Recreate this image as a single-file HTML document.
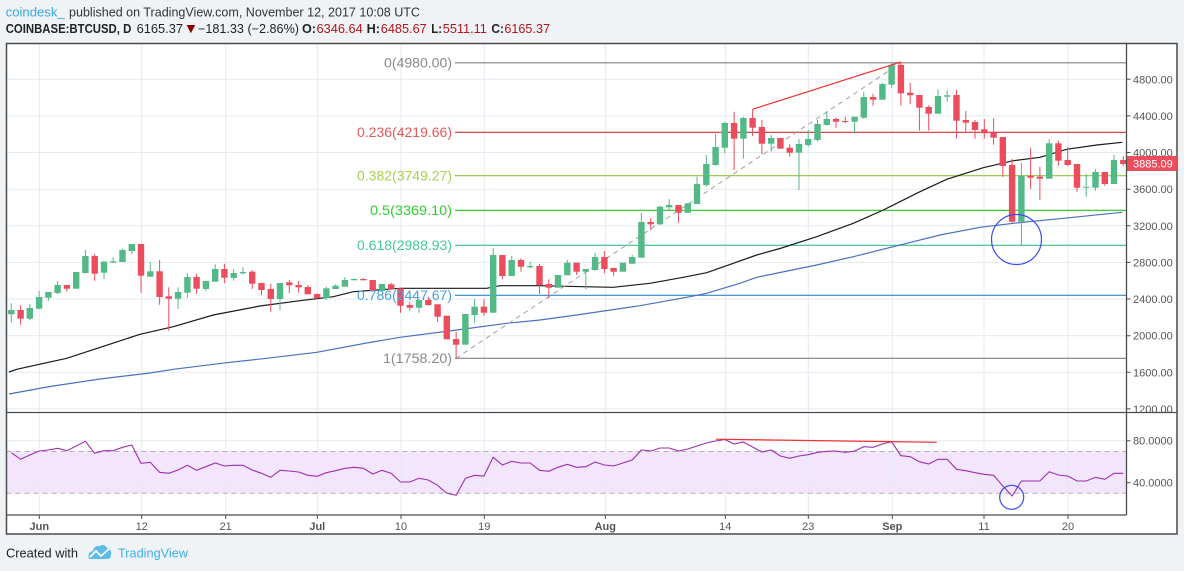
<!DOCTYPE html>
<html>
<head>
<meta charset="utf-8">
<style>
html,body{margin:0;padding:0;background:#f0f3f6;}
svg{display:block;}
text{font-family:"Liberation Sans",Arial,sans-serif;}
</style>
</head>
<body>
<svg width="1184" height="571" viewBox="0 0 1184 571" xmlns="http://www.w3.org/2000/svg">
<rect x="0" y="0" width="1184" height="571" fill="#f0f3f6"/>

<!-- header -->
<text x="5.7" y="16.5" font-size="13" fill="#35a8e0" textLength="59" lengthAdjust="spacingAndGlyphs">coindesk_</text>
<text x="69" y="16.5" font-size="13" fill="#333" textLength="351" lengthAdjust="spacingAndGlyphs">published on TradingView.com, November 12, 2017 10:08 UTC</text>

<text x="5.7" y="33" font-size="12.5" font-weight="bold" fill="#222" textLength="125.6" lengthAdjust="spacingAndGlyphs">COINBASE:BTCUSD, D</text>
<text x="136.6" y="33" font-size="12.5" fill="#222" textLength="46.4" lengthAdjust="spacingAndGlyphs">6165.37</text>
<polygon points="186.6,25 195.2,25 190.9,33.3" fill="#8b0000"/>
<text x="198" y="33" font-size="12.5" fill="#222" textLength="101" lengthAdjust="spacingAndGlyphs">−181.33 (−2.86%)</text>
<text x="302" y="33" font-size="12.5" font-weight="bold" fill="#222" textLength="14" lengthAdjust="spacingAndGlyphs">O:</text>
<text x="316.5" y="33" font-size="12.5" fill="#b0161c" textLength="46.3" lengthAdjust="spacingAndGlyphs">6346.64</text>
<text x="366.6" y="33" font-size="12.5" font-weight="bold" fill="#222" textLength="13.4" lengthAdjust="spacingAndGlyphs">H:</text>
<text x="380.8" y="33" font-size="12.5" fill="#b0161c" textLength="45.9" lengthAdjust="spacingAndGlyphs">6485.67</text>
<text x="431.3" y="33" font-size="12.5" font-weight="bold" fill="#222" textLength="10.7" lengthAdjust="spacingAndGlyphs">L:</text>
<text x="442.8" y="33" font-size="12.5" fill="#b0161c" textLength="44" lengthAdjust="spacingAndGlyphs">5511.11</text>
<text x="491.4" y="33" font-size="12.5" font-weight="bold" fill="#222" textLength="12.6" lengthAdjust="spacingAndGlyphs">C:</text>
<text x="504.4" y="33" font-size="12.5" fill="#b0161c" textLength="45.6" lengthAdjust="spacingAndGlyphs">6165.37</text>

<!-- chart background -->
<rect x="6.5" y="43.5" width="1170.5" height="490.5" fill="#ffffff"/>
<rect x="6.5" y="451.5" width="1120" height="41.8" fill="#f3e6fc"/>

<!-- grid -->
<g stroke="#e3eaf0" stroke-width="1">
<path d="M6.5 79.3H1126M6.5 115.9H1126M6.5 152.5H1126M6.5 189.2H1126M6.5 225.8H1126M6.5 262.4H1126M6.5 299H1126M6.5 335.7H1126M6.5 372.3H1126M6.5 408.9H1126"/>
<path d="M6.5 440.7H1126M6.5 482.7H1126"/>
<path d="M39.3 43.5V515M141.7 43.5V515M225.7 43.5V515M317.3 43.5V515M401 43.5V515M484.3 43.5V515M605.3 43.5V515M725.3 43.5V515M808.3 43.5V515M892.3 43.5V515M984 43.5V515M1068 43.5V515"/>
</g>

<!-- RSI band dashed -->
<g stroke="#b8a8c0" stroke-width="1" stroke-dasharray="5 4">
<path d="M6.5 451.5H1126M6.5 493.3H1126"/>
</g>

<!-- fib lines -->
<g stroke-width="1.2" fill="none">
<path d="M455 62.8H1126" stroke="#808080"/>
<path d="M455 132.3H1126" stroke="#d32f2f"/>
<path d="M455 175.7H1126" stroke="#8dc63f"/>
<path d="M455 210.3H1126" stroke="#21c621"/>
<path d="M455 245.3H1126" stroke="#35c08a"/>
<path d="M455 295.3H1126" stroke="#2f88c8"/>
<path d="M455 358.3H1126" stroke="#808080"/>
</g>

<!-- moving averages -->
<polyline fill="none" stroke="#4a70c0" stroke-width="1.2" points="9,394 50,386.5 100,379 150,373 173.3,369.3 226.7,362.7 266.7,358.3 316.7,352.3 366.7,343 400,337.3 456.7,330 506.7,323.3 540,320 576.7,315 640,305.7 690,296.7 706.7,293.3 723.3,288.3 740,283.3 756.7,277.3 780,272.5 816.7,265 853.3,256.7 893.3,246.7 940,235 980,227.3 1013.3,223.3 1063.3,218.3 1122.3,212.3"/>
<polyline fill="none" stroke="#1a1a1a" stroke-width="1.2" points="9,372 16.7,369.3 66.7,358.3 140,334.3 173.3,326.7 213.3,315 260,306 300,300.7 333.3,296.7 353.3,291.7 400,288.3 486.7,288.3 500,285.7 540,285.7 583.3,286.7 613.3,287.3 650,283.3 683.3,277.3 706.7,272.7 733.3,263.3 756.7,255 780,248.5 816.7,236.7 853.3,223.3 883.3,210 920,191.7 946.7,179.3 983.3,167.7 1013.3,160.7 1040,157.3 1066.7,149.3 1096.7,145 1122.3,142.3"/>

<!-- dashed fib trend -->
<line x1="456" y1="358.3" x2="900.9" y2="62.8" stroke="#a0a0a0" stroke-width="1" stroke-dasharray="5 4"/>

<!-- candles green -->
<path fill="none" stroke="#53b987" stroke-width="1" d="M11.3 303.3V322.7M29.8 304V320M39.1 291V309.3M48.4 292V300.7M57.6 281V294M85.4 250V273.7M104 260.7V279.3M113.2 257.3V262.7M122.5 248.7V262M131.8 244V254.3M150.3 262V276.7M178.1 287.3V309M187.4 273V297.7M205.9 281V291M215.2 264.3V281.7M233.7 269V280.7M243 267.3V274.7M280 283V310.3M326.4 286.7V300M335.6 284.3V289M344.9 277.3V286.7M354.2 278.3V280.3M419 299.3V312.7M474.6 299.3V322.7M493.2 248V312.7M511.7 256V276M530.2 261.7V268.3M567.3 260V275.3M585.8 269V289.3M595.1 252.7V270.7M632.2 255V263.7M641.4 213V257.7M660 205.7V225M669.2 199V210M687.8 203.3V213.3M697 176.7V204M706.3 155V186.7M715.6 134V165.7M724.8 121.7V153.3M743.4 116.7V158.7M771.2 135V151.7M799 139V190M808.2 130V146.7M817.5 120V141.7M826.8 111V125.7M854.6 116.7V133.3M863.8 92V119M882.4 82.7V99.7M891.6 63.3V87.7M938 89.3V113.7M947.2 90.7V101.7M1021.4 162.7V245.7M1049.2 139.3V178.7M1086.2 174V196.7M1095.5 169.3V190.7M1114 155V184"/>
<g fill="#53b987">
<rect x="8.1" y="310" width="6.4" height="4.3"/>
<rect x="26.6" y="308" width="6.4" height="10.7"/>
<rect x="35.9" y="297" width="6.4" height="11.7"/>
<rect x="45.2" y="292" width="6.4" height="5.7"/>
<rect x="54.4" y="285" width="6.4" height="8"/>
<rect x="73" y="272" width="6.4" height="16.7"/>
<rect x="82.2" y="256" width="6.4" height="17"/>
<rect x="100.8" y="261.7" width="6.4" height="11"/>
<rect x="110" y="261.3" width="6.4" height="1.4"/>
<rect x="119.3" y="250" width="6.4" height="12"/>
<rect x="128.6" y="244" width="6.4" height="7"/>
<rect x="147.1" y="271.3" width="6.4" height="5.4"/>
<rect x="174.9" y="292" width="6.4" height="6.7"/>
<rect x="184.2" y="277" width="6.4" height="15.7"/>
<rect x="202.7" y="281" width="6.4" height="8"/>
<rect x="212" y="269" width="6.4" height="12.7"/>
<rect x="230.5" y="273" width="6.4" height="5"/>
<rect x="239.8" y="272" width="6.4" height="1.3"/>
<rect x="276.8" y="283" width="6.4" height="16"/>
<rect x="323.2" y="288.3" width="6.4" height="9.7"/>
<rect x="332.4" y="285.7" width="6.4" height="3.3"/>
<rect x="341.7" y="280" width="6.4" height="6.7"/>
<rect x="351" y="279" width="6.4" height="1.3"/>
<rect x="378.8" y="284" width="6.4" height="7"/>
<rect x="415.8" y="300" width="6.4" height="7.7"/>
<rect x="462.2" y="314" width="6.4" height="30.7"/>
<rect x="471.4" y="306.7" width="6.4" height="8.3"/>
<rect x="490" y="255" width="6.4" height="57.7"/>
<rect x="508.5" y="260" width="6.4" height="16"/>
<rect x="527" y="266" width="6.4" height="1.3"/>
<rect x="554.8" y="275" width="6.4" height="12.7"/>
<rect x="564.1" y="262.7" width="6.4" height="12.6"/>
<rect x="582.6" y="269" width="6.4" height="2.7"/>
<rect x="591.9" y="257" width="6.4" height="13"/>
<rect x="619.7" y="262.7" width="6.4" height="9"/>
<rect x="629" y="257" width="6.4" height="6.7"/>
<rect x="638.2" y="222" width="6.4" height="35.7"/>
<rect x="656.8" y="206.7" width="6.4" height="17.6"/>
<rect x="666" y="205" width="6.4" height="2.3"/>
<rect x="684.6" y="203.3" width="6.4" height="9.4"/>
<rect x="693.8" y="184" width="6.4" height="20"/>
<rect x="703.1" y="164" width="6.4" height="21"/>
<rect x="712.4" y="147" width="6.4" height="18"/>
<rect x="721.6" y="123" width="6.4" height="24.7"/>
<rect x="740.2" y="118" width="6.4" height="20.7"/>
<rect x="768" y="138" width="6.4" height="5.7"/>
<rect x="795.8" y="144" width="6.4" height="8.7"/>
<rect x="805" y="139" width="6.4" height="6"/>
<rect x="814.3" y="124" width="6.4" height="16"/>
<rect x="823.6" y="119" width="6.4" height="6"/>
<rect x="851.4" y="116.7" width="6.4" height="5"/>
<rect x="860.6" y="97" width="6.4" height="20.7"/>
<rect x="879.2" y="84" width="6.4" height="15.7"/>
<rect x="888.4" y="65" width="6.4" height="19.7"/>
<rect x="934.8" y="96" width="6.4" height="17.7"/>
<rect x="944" y="95.3" width="6.4" height="1.4"/>
<rect x="1018.2" y="175.7" width="6.4" height="46"/>
<rect x="1046" y="143.3" width="6.4" height="35.4"/>
<rect x="1083" y="186.7" width="6.4" height="1"/>
<rect x="1092.3" y="172" width="6.4" height="15.7"/>
<rect x="1110.8" y="160" width="6.4" height="24"/>
</g>

<!-- candles red -->
<path fill="none" stroke="#eb4d5c" stroke-width="1" d="M20.6 305.3V324.7M66.9 285V291.7M94.7 254V280.7M141 244V292.7M159.6 260V304.7M168.8 287.3V330.7M196.6 273.7V293.7M224.4 263.7V283.3M252.2 270V289M261.5 283V295.3M270.8 283.7V311.7M289.3 280V293.3M298.6 281V292.7M307.8 285V294.3M317.1 293.3V298.7M363.4 278V280.3M391.2 282.7V290M400.5 288.3V312.7M409.8 302.3V310.7M428.3 296.7V305.7M437.6 304.3V321.7M456.1 331.7V358.3M483.9 299.3V315.7M502.4 255V279.3M521 258.3V271.7M539.5 264V294M548.8 279.3V298.3M576.6 262.7V275M604.4 251V273.3M613.6 268V275.7M650.7 218.3V230M678.5 205V222.7M734.1 111.7V170M752.6 109.3V136M761.9 120V154.3M789.7 144.3V156.7M836 117.7V127.7M845.3 116.7V123.3M873.1 93.7V105.7M900.9 62.5V105.7M910.2 82.7V104.3M919.4 95V130.7M928.7 105.3V130.7M956.5 90V138.7M965.8 111V132.7M975 120V138.7M984.3 119V138.7M993.6 118.3V144.7M1002.8 137V176.7M1012.1 158.7V222.7M1030.6 147.7V189M1039.9 166.7V200M1058.4 140.7V165.7M1067.7 147.3V166M1077 164V191.7M1104.8 172V185.7M1123.3 156V165.7"/>
<g fill="#eb4d5c">
<rect x="17.4" y="310" width="6.4" height="8.7"/>
<rect x="63.7" y="285" width="6.4" height="3.7"/>
<rect x="91.5" y="256" width="6.4" height="17.7"/>
<rect x="137.8" y="244" width="6.4" height="31.7"/>
<rect x="156.4" y="271.3" width="6.4" height="25.7"/>
<rect x="165.6" y="296.3" width="6.4" height="2.4"/>
<rect x="193.4" y="277" width="6.4" height="11.7"/>
<rect x="221.2" y="269" width="6.4" height="8.7"/>
<rect x="249" y="271.7" width="6.4" height="12"/>
<rect x="258.3" y="283" width="6.4" height="7"/>
<rect x="267.6" y="289" width="6.4" height="10"/>
<rect x="286.1" y="282.3" width="6.4" height="3"/>
<rect x="295.4" y="285" width="6.4" height="2.3"/>
<rect x="304.6" y="287" width="6.4" height="7.3"/>
<rect x="313.9" y="294" width="6.4" height="4"/>
<rect x="360.2" y="279" width="6.4" height="1.3"/>
<rect x="369.5" y="280" width="6.4" height="11"/>
<rect x="388" y="284.3" width="6.4" height="5"/>
<rect x="397.3" y="288.3" width="6.4" height="17.4"/>
<rect x="406.6" y="305" width="6.4" height="2.7"/>
<rect x="425.1" y="300" width="6.4" height="5"/>
<rect x="434.4" y="304.3" width="6.4" height="12.4"/>
<rect x="443.6" y="315.7" width="6.4" height="23.6"/>
<rect x="452.9" y="339" width="6.4" height="5.7"/>
<rect x="480.7" y="306.7" width="6.4" height="6"/>
<rect x="499.2" y="255" width="6.4" height="21"/>
<rect x="517.8" y="260" width="6.4" height="6.7"/>
<rect x="536.3" y="266" width="6.4" height="19"/>
<rect x="545.6" y="284" width="6.4" height="3.7"/>
<rect x="573.4" y="262.7" width="6.4" height="9"/>
<rect x="601.2" y="257" width="6.4" height="12"/>
<rect x="610.4" y="268" width="6.4" height="3.7"/>
<rect x="647.5" y="222" width="6.4" height="2.3"/>
<rect x="675.3" y="205" width="6.4" height="7.7"/>
<rect x="730.9" y="123" width="6.4" height="15.7"/>
<rect x="749.4" y="118" width="6.4" height="9.7"/>
<rect x="758.7" y="127" width="6.4" height="16.7"/>
<rect x="777.2" y="138" width="6.4" height="10.7"/>
<rect x="786.5" y="147.7" width="6.4" height="5"/>
<rect x="832.8" y="119" width="6.4" height="2.7"/>
<rect x="842.1" y="121" width="6.4" height="1"/>
<rect x="869.9" y="97" width="6.4" height="2.7"/>
<rect x="897.7" y="65" width="6.4" height="28.3"/>
<rect x="907" y="92.7" width="6.4" height="2.6"/>
<rect x="916.2" y="95" width="6.4" height="12.7"/>
<rect x="925.5" y="107" width="6.4" height="6.7"/>
<rect x="953.3" y="95" width="6.4" height="25.7"/>
<rect x="962.6" y="120" width="6.4" height="2.7"/>
<rect x="971.8" y="122" width="6.4" height="8"/>
<rect x="981.1" y="129.3" width="6.4" height="4"/>
<rect x="990.4" y="132.3" width="6.4" height="5.4"/>
<rect x="999.6" y="137" width="6.4" height="29"/>
<rect x="1008.9" y="165" width="6.4" height="56.7"/>
<rect x="1027.4" y="175.7" width="6.4" height="2"/>
<rect x="1036.7" y="176.7" width="6.4" height="2"/>
<rect x="1055.2" y="143.3" width="6.4" height="17.4"/>
<rect x="1064.5" y="160" width="6.4" height="5"/>
<rect x="1073.8" y="164" width="6.4" height="23.7"/>
<rect x="1101.6" y="172" width="6.4" height="12"/>
<rect x="1120.1" y="160" width="6.4" height="4"/>
</g>

<!-- fib labels -->
<g font-size="14" text-anchor="end">
<text x="452" y="67.5" fill="#8a8a8a" textLength="68" lengthAdjust="spacingAndGlyphs">0(4980.00)</text>
<text x="452" y="137" fill="#e05a5a" textLength="95" lengthAdjust="spacingAndGlyphs">0.236(4219.66)</text>
<text x="452" y="180.4" fill="#a6cf4f" textLength="95" lengthAdjust="spacingAndGlyphs">0.382(3749.27)</text>
<text x="452" y="215" fill="#33cc33" textLength="82" lengthAdjust="spacingAndGlyphs">0.5(3369.10)</text>
<text x="452" y="250" fill="#45c898" textLength="95" lengthAdjust="spacingAndGlyphs">0.618(2988.93)</text>
<text x="452" y="300" fill="#4aa0dc" textLength="95" lengthAdjust="spacingAndGlyphs">0.786(2447.67)</text>
<text x="452" y="363" fill="#8a8a8a" textLength="69" lengthAdjust="spacingAndGlyphs">1(1758.20)</text>
</g>

<!-- annotations price -->
<line x1="752.6" y1="109.3" x2="900.9" y2="62" stroke="#f23030" stroke-width="1.2"/>
<circle cx="1016.5" cy="239.5" r="25" fill="none" stroke="#3d4cf0" stroke-width="1.2"/>

<!-- RSI line -->
<polyline fill="none" stroke="#9c2fae" stroke-width="1.1" points="11.3,452.7 20.6,459.3 29.8,455 39.1,451 48.4,450 57.6,448.3 66.9,450.7 76.2,446 85.4,441.3 94.7,453.3 104,450.7 113.2,450.7 122.5,447.3 131.8,445 141,463.3 150.3,462.3 159.6,472.3 168.8,473.3 178.1,470 187.4,465.3 196.6,470.3 205.9,466.7 215.2,463 224.4,466 233.7,465.3 243,465.3 252.2,470 261.5,473.3 270.8,477.3 280,470.3 289.3,471 298.6,472 307.8,475.3 317.1,476.3 326.4,472.7 335.6,470.7 344.9,468.3 354.2,467.3 363.4,468.3 372.7,474 382,470.3 391.2,473.3 400.5,482 409.8,482 419,478.3 428.3,480 437.6,485.3 446.8,493.3 456.1,495.3 465.4,478.3 474.6,475.3 483.9,476 493.2,457.3 502.4,465 511.7,461.3 521,463 530.2,463 539.5,470.3 548.8,471.3 558,467.3 567.3,464.3 576.6,467.3 585.8,466.7 595.1,462 604.4,465 613.6,466 622.9,463 632.2,460 641.4,450 650.7,451 660,448 669.2,448 678.5,451 687.8,449 697,446 706.3,443 715.6,441 724.8,439.5 734.1,444 743.4,442 752.6,447 761.9,452 771.2,450 780.4,456 789.7,458.3 799,456 808.2,454.7 817.5,452.3 826.8,451.3 836,451 845.3,452.3 854.6,451 863.8,446.7 873.1,447.3 882.4,444 891.6,441.7 900.9,455.7 910.2,456.7 919.4,461.7 928.7,464 938,459.3 947.2,459.3 956.5,469.3 965.8,470.7 975,472.7 984.3,474.3 993.6,475.3 1002.8,486 1012.1,496 1021.4,481 1030.6,481 1039.9,481 1049.2,471.7 1058.4,475 1067.7,476 1077,481 1086.2,481 1095.5,477.3 1104.8,479.3 1114,473.3 1123.3,473.3"/>
<line x1="716" y1="439.2" x2="936.7" y2="442.3" stroke="#f23030" stroke-width="1.2"/>
<circle cx="1011.7" cy="497.3" r="12" fill="none" stroke="#3d4cf0" stroke-width="1.2"/>

<!-- axes frame -->
<g stroke="#4b4b4b" fill="none">
<rect x="6.5" y="43.5" width="1170.5" height="490.5" stroke-width="1.5"/>
<path d="M1126.5 43.5V515" stroke-width="1.3"/>
<path d="M6.5 412.5H1177" stroke-width="1.3"/>
<path d="M6.5 515H1126.5" stroke-width="1.3"/>
<path d="M1126.5 79.3h4M1126.5 115.9h4M1126.5 152.5h4M1126.5 189.2h4M1126.5 225.8h4M1126.5 262.4h4M1126.5 299h4M1126.5 335.7h4M1126.5 372.3h4M1126.5 408.9h4M1126.5 440.7h4M1126.5 482.7h4" stroke-width="1"/>
<path d="M39.3 515v4M141.7 515v4M225.7 515v4M317.3 515v4M401 515v4M484.3 515v4M605.3 515v4M725.3 515v4M808.3 515v4M892.3 515v4M984 515v4M1068 515v4" stroke-width="1"/>
</g>

<!-- price axis labels -->
<svg x="1127" y="44" width="50" height="368" overflow="hidden">
<g font-size="11" fill="#555">
<text x="6" y="39.3">4800.00</text>
<text x="6" y="75.9">4400.00</text>
<text x="6" y="112.5">4000.00</text>
<text x="6" y="149.2">3600.00</text>
<text x="6" y="185.8">3200.00</text>
<text x="6" y="222.4">2800.00</text>
<text x="6" y="259">2400.00</text>
<text x="6" y="295.7">2000.00</text>
<text x="6" y="332.3">1600.00</text>
<text x="6" y="368.9">1200.00</text>
</g>
</svg>
<rect x="1127" y="156" width="50" height="15" fill="#eb4d5c"/>
<text x="1133" y="167.5" font-size="11" fill="#ffffff">3885.09</text>

<!-- RSI axis labels -->
<g font-size="11" fill="#555">
<text x="1133" y="444.7">80.0000</text>
<text x="1133" y="486.7">40.0000</text>
</g>

<!-- time labels -->
<g font-size="11" fill="#555" text-anchor="middle">
<text x="39.3" y="530" font-weight="bold">Jun</text>
<text x="141.7" y="530">12</text>
<text x="225.7" y="530">21</text>
<text x="317.3" y="530" font-weight="bold">Jul</text>
<text x="401" y="530">10</text>
<text x="484.3" y="530">19</text>
<text x="605.3" y="530" font-weight="bold">Aug</text>
<text x="725.3" y="530">14</text>
<text x="808.3" y="530">23</text>
<text x="892.3" y="530" font-weight="bold">Sep</text>
<text x="984" y="530">11</text>
<text x="1068" y="530">20</text>
</g>

<!-- footer -->
<text x="6" y="557.5" font-size="13" fill="#222" textLength="72" lengthAdjust="spacingAndGlyphs">Created with</text>
<path d="M89 559 Q87 552 93 551 Q94 545 100 546 Q104 543 107 548 Q112 549 111 555 Q111 559 107 559 Z" fill="#5cbbe8"/>
<polyline points="90,557 96,551 101,556 109,549" fill="none" stroke="#ffffff" stroke-width="1.8"/>
<text x="118" y="557.5" font-size="13" fill="#3cb0e8" textLength="70" lengthAdjust="spacingAndGlyphs">TradingView</text>
</svg>
</body>
</html>
